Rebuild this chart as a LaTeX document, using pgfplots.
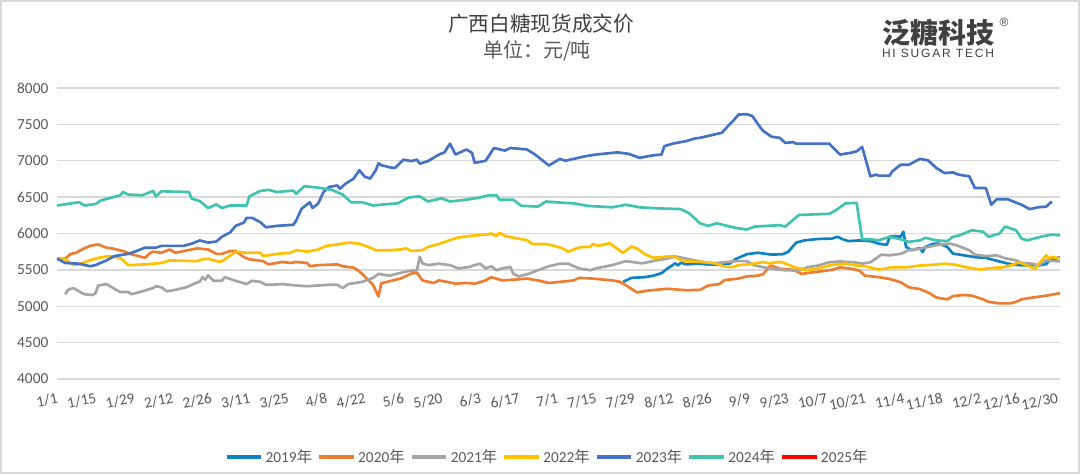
\documentclass[border=0pt]{standalone}
\usepackage{fontspec}
\setmainfont{Carlito}
\newfontfamily\cjk{Noto Sans CJK SC}
\newfontfamily\arial{Liberation Sans}
\usepackage{pgfplots}
\pgfplotsset{compat=1.18}

\definecolor{c19}{RGB}{15,130,195}
\definecolor{c20}{RGB}{237,125,49}
\definecolor{c21}{RGB}{165,165,165}
\definecolor{c22}{RGB}{255,192,0}
\definecolor{c23}{RGB}{68,114,196}
\definecolor{c24}{RGB}{64,195,175}
\definecolor{c25}{RGB}{255,0,0}
\definecolor{gridc}{RGB}{217,217,217}
\definecolor{txt}{RGB}{89,89,89}
\definecolor{ttl}{RGB}{64,64,64}

\begin{document}
\begin{tikzpicture}
% 1 px of the reference = 0.75pt
\useasboundingbox (0pt,0pt) rectangle (810pt,355.5pt);
\draw[gridc, line width=2.5pt] (0pt,0pt) rectangle (810pt,355.5pt);

% titles and logo
\node[text=ttl, font=\cjk\fontsize{15.5}{16}\selectfont] at (405.75pt,337.5pt) {广西白糖现货成交价};
\node[text=txt, font=\cjk\fontsize{15}{16}\selectfont] at (402.75pt,317.25pt) {单位：元/吨};
\node[text=ttl, font=\cjk\bfseries\fontsize{21}{22}\selectfont] at (703.5pt,330.75pt) {泛糖科技};
\node[text=ttl, font=\arial\fontsize{9}{10}\selectfont] at (753pt,339pt) {®};
\node[text=ttl, font=\arial\addfontfeatures{LetterSpace=15}\fontsize{9}{10}\selectfont] at (703.5pt,315.75pt) {HI SUGAR TECH};

\begin{axis}[
    at={(42.75pt,71.25pt)}, anchor=south west,
    scale only axis,
    width=752.25pt, height=218.25pt,
    xmin=1, xmax=366,
    ymin=4000, ymax=8000,
    ytick={4000,4500,...,8000},
    xtick={1,15,...,365},
    xticklabels={1/1,1/15,1/29,2/12,2/26,3/11,3/25,4/8,4/22,5/6,5/20,6/3,6/17,7/1,7/15,7/29,8/12,8/26,9/9,9/23,10/7,10/21,11/4,11/18,12/2,12/16,12/30},
    axis line style={draw=none},
    major tick length=0pt,
    ymajorgrids,
    grid style={gridc, line width=1.1pt},
    /pgf/number format/assume math mode=true,
    /pgf/number format/1000 sep={},
    tick label style={text=txt, font=\fontsize{11.5}{12}\selectfont},
    yticklabel style={xshift=-3pt},
    xticklabel style={rotate=12, anchor=north east, yshift=-6pt, xshift=1pt},
    every axis plot/.append style={line width=2pt, line join=round},
    legend columns=7,
    legend style={draw=none, fill=none, at={(0.489,-0.268)}, anchor=center,
        font=\fontsize{11.5}{12}\selectfont, text=txt,
        /tikz/every even column/.append style={column sep=2pt}},
    legend image code/.code={\draw[#1, line width=2.6pt] (0pt,0pt) -- (26pt,0pt);},
]
% 2019
\addplot[c19] coordinates {(207,5335)(210,5390)(215,5400)(218,5420)(221,5455)(223,5515)(226,5590)(227,5560)(228,5600)(230,5575)(234,5585)(238,5575)(242,5570)(246,5590)(248,5650)(252,5715)(256,5735)(261,5710)(265,5715)(267,5745)(270,5875)(273,5905)(278,5925)(283,5930)(285,5955)(287,5920)(289,5895)(293,5905)(297,5895)(300,5860)(303,5845)(304,5955)(306,5965)(308,5955)(309,6025)(310,5815)(312,5770)(315,5800)(316,5745)(317,5815)(320,5860)(322,5860)(325,5815)(327,5725)(331,5700)(335,5675)(339,5665)(344,5615)(349,5570)(354,5560)(356,5570)(358,5560)(361,5580)(362,5625)(366,5675)};
\addlegendentry{2019{\cjk 年}}
% 2020
\addplot[c20] coordinates {(1,5655)(4,5655)(6,5720)(8,5735)(10,5780)(13,5830)(16,5850)(19,5805)(21,5795)(25,5760)(28,5715)(33,5665)(35,5735)(36,5750)(39,5735)(42,5780)(44,5735)(52,5795)(56,5780)(59,5720)(61,5720)(64,5760)(66,5760)(69,5675)(71,5645)(76,5620)(78,5575)(83,5610)(86,5595)(88,5610)(92,5595)(93,5550)(96,5565)(103,5575)(105,5550)(109,5530)(111,5480)(113,5410)(116,5295)(118,5135)(119,5315)(121,5335)(126,5380)(130,5450)(132,5460)(134,5355)(138,5320)(140,5355)(143,5335)(146,5310)(150,5320)(153,5310)(157,5355)(159,5400)(163,5355)(167,5365)(172,5380)(176,5355)(180,5320)(184,5335)(189,5355)(191,5390)(196,5380)(203,5355)(206,5335)(209,5265)(212,5190)(216,5215)(223,5240)(230,5220)(235,5225)(238,5285)(242,5305)(244,5360)(249,5380)(252,5410)(256,5420)(258,5440)(260,5535)(261,5560)(264,5515)(269,5500)(272,5445)(277,5470)(283,5500)(286,5535)(290,5515)(293,5490)(295,5420)(300,5400)(304,5375)(308,5330)(311,5260)(315,5235)(318,5190)(321,5120)(325,5095)(327,5140)(331,5155)(334,5145)(338,5095)(340,5060)(344,5040)(348,5040)(350,5060)(352,5095)(356,5120)(361,5145)(366,5180)};
\addlegendentry{2020{\cjk 年}}
% 2021
\addplot[c21] coordinates {(4,5165)(5,5225)(7,5250)(9,5205)(11,5165)(14,5155)(15,5180)(16,5285)(19,5305)(21,5260)(24,5195)(27,5195)(28,5165)(32,5205)(36,5250)(37,5275)(39,5260)(41,5205)(44,5225)(48,5260)(50,5295)(53,5340)(54,5400)(55,5365)(56,5425)(58,5350)(61,5350)(62,5400)(66,5350)(70,5305)(72,5350)(75,5335)(77,5295)(79,5295)(83,5305)(88,5285)(92,5275)(96,5285)(100,5295)(103,5295)(105,5250)(107,5305)(112,5335)(116,5390)(118,5445)(122,5420)(125,5450)(129,5485)(132,5495)(133,5680)(134,5590)(136,5565)(140,5585)(144,5565)(147,5520)(151,5540)(153,5565)(155,5585)(157,5520)(159,5550)(161,5495)(163,5520)(166,5540)(167,5450)(169,5410)(173,5450)(176,5495)(180,5550)(184,5585)(187,5585)(191,5520)(195,5495)(197,5520)(201,5550)(203,5565)(208,5620)(214,5590)(219,5630)(223,5655)(226,5685)(230,5655)(235,5615)(240,5590)(244,5605)(248,5620)(252,5620)(255,5560)(261,5515)(266,5495)(271,5490)(274,5535)(278,5560)(282,5605)(286,5615)(291,5605)(294,5585)(297,5605)(299,5655)(301,5710)(304,5700)(308,5720)(311,5770)(315,5790)(318,5815)(322,5845)(326,5860)(329,5830)(333,5770)(335,5710)(339,5690)(343,5700)(346,5660)(350,5630)(352,5595)(356,5585)(358,5560)(361,5630)(366,5615)};
\addlegendentry{2021{\cjk 年}}
% 2022
\addplot[c22] coordinates {(1,5655)(4,5645)(7,5565)(9,5575)(12,5620)(16,5665)(20,5690)(24,5665)(27,5565)(33,5575)(39,5595)(42,5630)(52,5620)(54,5645)(56,5655)(60,5610)(61,5620)(65,5720)(66,5750)(70,5735)(75,5735)(76,5690)(81,5720)(86,5735)(88,5770)(92,5750)(96,5780)(99,5830)(103,5850)(107,5875)(111,5860)(115,5805)(117,5770)(122,5770)(126,5780)(128,5795)(130,5760)(134,5770)(136,5815)(140,5855)(144,5910)(147,5945)(151,5965)(155,5980)(158,5990)(159,6000)(161,5965)(162,6010)(164,5965)(168,5935)(172,5910)(174,5855)(179,5855)(181,5840)(185,5795)(187,5750)(190,5795)(192,5815)(195,5815)(196,5855)(198,5830)(202,5865)(204,5815)(207,5735)(210,5820)(212,5795)(215,5715)(218,5665)(221,5675)(225,5690)(229,5620)(235,5610)(240,5595)(244,5545)(247,5540)(249,5565)(254,5580)(258,5610)(260,5590)(264,5610)(266,5590)(269,5540)(274,5495)(278,5520)(283,5570)(288,5585)(292,5560)(295,5550)(300,5505)(305,5535)(310,5535)(315,5560)(320,5570)(324,5585)(328,5570)(332,5535)(337,5505)(341,5525)(345,5535)(349,5570)(351,5605)(354,5560)(357,5515)(358,5570)(361,5700)(362,5655)(363,5675)(366,5660)};
\addlegendentry{2022{\cjk 年}}
% 2023
\addplot[c23] coordinates {(1,5655)(4,5595)(9,5585)(13,5550)(15,5565)(19,5630)(22,5690)(27,5720)(30,5760)(33,5805)(37,5805)(39,5830)(47,5830)(50,5860)(53,5905)(56,5875)(59,5890)(61,5955)(64,6015)(66,6105)(69,6150)(70,6215)(72,6215)(75,6155)(77,6085)(81,6105)(87,6120)(88,6175)(90,6340)(93,6430)(94,6350)(96,6410)(98,6570)(100,6640)(103,6660)(104,6615)(106,6685)(109,6755)(111,6870)(113,6780)(115,6755)(117,6870)(118,6965)(119,6940)(122,6910)(124,6900)(127,7015)(130,6995)(132,7015)(133,6960)(136,6995)(140,7085)(142,7115)(144,7235)(146,7085)(150,7155)(152,7110)(153,6970)(157,7000)(160,7175)(164,7140)(166,7175)(172,7155)(175,7085)(178,6995)(180,6935)(184,7025)(186,7000)(193,7060)(197,7085)(205,7115)(209,7095)(213,7040)(218,7075)(221,7085)(222,7200)(225,7235)(230,7270)(233,7305)(235,7315)(243,7385)(245,7470)(247,7545)(249,7635)(252,7640)(254,7615)(257,7455)(258,7410)(261,7330)(264,7315)(266,7245)(269,7255)(270,7235)(282,7235)(286,7085)(290,7110)(292,7130)(294,7190)(297,6785)(299,6810)(300,6795)(304,6795)(305,6855)(308,6945)(311,6945)(315,7025)(318,7005)(321,6900)(324,6830)(327,6840)(329,6810)(333,6785)(335,6625)(339,6625)(341,6395)(343,6470)(347,6470)(349,6440)(352,6395)(355,6335)(358,6360)(361,6370)(363,6440)};
\addlegendentry{2023{\cjk 年}}
% 2024
\addplot[c24] coordinates {(1,6385)(9,6430)(11,6385)(15,6405)(17,6455)(19,6475)(24,6525)(25,6570)(27,6535)(32,6525)(36,6585)(37,6510)(39,6580)(49,6570)(50,6480)(53,6445)(56,6350)(59,6400)(61,6350)(64,6385)(70,6385)(71,6510)(75,6585)(78,6600)(81,6570)(87,6590)(88,6545)(91,6650)(96,6630)(101,6600)(105,6535)(108,6430)(112,6430)(116,6385)(120,6400)(125,6415)(129,6495)(133,6510)(136,6440)(141,6485)(144,6440)(150,6465)(155,6495)(158,6525)(161,6525)(162,6465)(167,6465)(170,6380)(176,6370)(179,6440)(184,6425)(189,6415)(194,6380)(203,6360)(208,6395)(213,6360)(220,6345)(228,6335)(231,6280)(235,6140)(238,6105)(241,6140)(246,6095)(249,6070)(252,6055)(255,6095)(264,6115)(266,6095)(271,6255)(282,6270)(284,6310)(288,6415)(292,6420)(294,5920)(297,5920)(300,5905)(304,5955)(308,5920)(311,5885)(315,5905)(317,5940)(321,5905)(325,5895)(327,5955)(329,5970)(334,6045)(338,6025)(340,5955)(344,6000)(346,6095)(350,6045)(352,5930)(354,5905)(359,5955)(363,5985)(366,5975)};
\addlegendentry{2024{\cjk 年}}
% 2025 (no data yet)
\addlegendimage{c25}
\addlegendentry{2025{\cjk 年}}
\end{axis}
\end{tikzpicture}
\end{document}
